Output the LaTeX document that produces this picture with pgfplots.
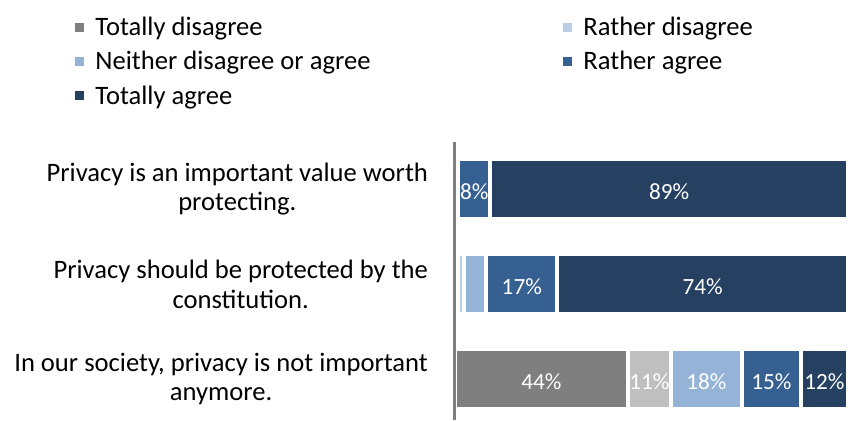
\documentclass[border=0pt]{standalone}
\usepackage{pgfplots}
\usepackage{pgfplotstable}
\pgfplotsset{compat=1.18}
\usepackage{fontspec}
\setmainfont{Carlito}
\definecolor{cTD}{HTML}{7F7F7F}
\definecolor{cRD}{HTML}{B9CDE5}
\definecolor{cRDg}{HTML}{BFBFBF}
\definecolor{cNE}{HTML}{95B3D7}
\definecolor{cRA}{HTML}{376092}
\definecolor{cTA}{HTML}{254061}
\newcommand{\catfont}{\fontsize{13.3}{14.6}\selectfont}
\newcommand{\lblfont}{\fontsize{11.6}{14}\selectfont}
\pgfplotstableread{
pos off td rd rdg ne ra ta tdl rdl rdgl nel ral tal
0   0   44 0   11  18  15  12 44  0   11   18  15  12
1   0.8 0  1.4 0   5.8 18  74 0   0   0    0   17  74
2   0.8 0  0   0   0   8.2 91 0   0   0    0   8   89
}\datatab
\pgfplotsset{
  seg/.style n args={3}{fill=#1, draw=white, line width=2pt,
    visualization depends on={\thisrow{#3} \as \lab},
    nodes near coords={\ifdim\lab pt>0pt \pgfmathprintnumber[fixed,precision=0]{\lab}\%\fi},
    every node near coord/.append style={anchor=center, text=white, font=\lblfont, line width=0.4pt, yshift=-1pt}},
}
\begin{document}
\begin{tikzpicture}
\begin{axis}[
  scale only axis,
  width=196.5pt, height=139pt,
  xbar stacked, bar width=30pt,
  xmin=0, xmax=100,
  ymin=-0.43, ymax=2.5,
  /pgf/number format/assume math mode=true,
  axis x line=none,
  axis y line*=left,
  y axis line style={draw=cTD, line width=1.5pt},
  axis on top,
  ytick={0,1,2},
  yticklabels={{In our society, privacy is not important\\anymore.},{Privacy should be protected by the\\constitution.},{Privacy is an important value worth\\protecting.}},
  yticklabel style={align=center, font=\catfont, xshift=-10pt},
  major tick length=0pt,
  ytick style={draw=none},
  legend columns=2,
  legend cell align=left,
  legend style={at={(axis description cs:0,1)}, anchor=north west, xshift=-190pt, yshift=64pt,
    draw=none, fill=none, inner sep=0pt, font=\catfont, row sep=3.3pt,
    nodes={inner sep=1.5pt},
    /tikz/every odd column/.append style={column sep=4pt},
    /tikz/every even column/.append style={column sep=95pt}},
  legend image code/.code={\path[#1, draw=none] (0pt,-2pt) rectangle (4.5pt,2.5pt);},
]
\addplot[forget plot, draw=none, fill=none] table[x=off, y=pos] {\datatab};
\addplot[seg={cTD}{td}{tdl}] table[x=td, y=pos] {\datatab};
\addlegendentry{Totally disagree}
\addplot[seg={cRD}{rd}{rdl}] table[x=rd, y=pos] {\datatab};
\addlegendentry{Rather disagree}
\addplot[forget plot, seg={cRDg}{rdg}{rdgl}] table[x=rdg, y=pos] {\datatab};
\addplot[seg={cNE}{ne}{nel}] table[x=ne, y=pos] {\datatab};
\addlegendentry{Neither disagree or agree}
\addplot[seg={cRA}{ra}{ral}] table[x=ra, y=pos] {\datatab};
\addlegendentry{Rather agree}
\addplot[seg={cTA}{ta}{tal}] table[x=ta, y=pos] {\datatab};
\addlegendentry{Totally agree}
\end{axis}
\pgfresetboundingbox
\path (current axis.south west) ++(-227.5pt,0pt) rectangle ++(424pt,210pt);
\end{tikzpicture}
\end{document}
